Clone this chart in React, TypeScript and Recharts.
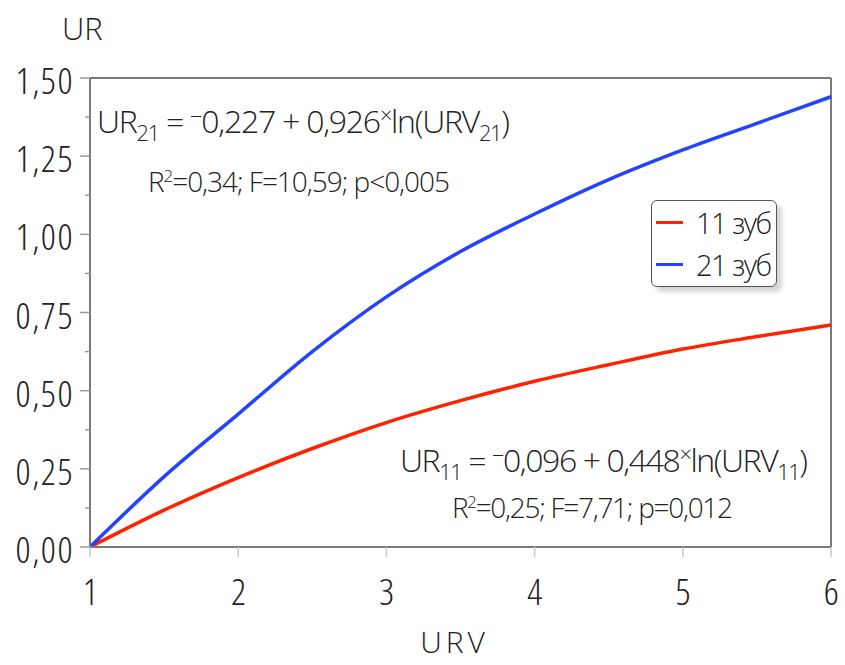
import { LineChart, Line, XAxis, YAxis, Legend, ReferenceLine, Label } from "recharts";

// URV values and fitted UR curves
const URV = [1, 1.5, 2, 2.5, 3, 3.5, 4, 4.5, 5, 5.5, 6];
const UR_11 = [0, 0.118, 0.222, 0.315, 0.398, 0.468, 0.53, 0.583, 0.633, 0.673, 0.71];
const UR_21 = [0, 0.225, 0.425, 0.625, 0.8, 0.945, 1.065, 1.175, 1.27, 1.355, 1.44];

const X_TICKS = [1, 2, 3, 4, 5, 6];
const Y_TICKS = [0, 0.25, 0.5, 0.75, 1, 1.25, 1.5];
const Y_MINOR = [0.125, 0.375, 0.625, 0.875, 1.125, 1.375];

const SERIES = [
  { key: "t11", name: "11 зуб", color: "#ff2200" },
  { key: "t21", name: "21 зуб", color: "#2343ff" },
];

const EQ_21 = { tooth: "21", a: "0,227", b: "0,926", r2: "0,34", f: "10,59", p: "p<0,005" };
const EQ_11 = { tooth: "11", a: "0,096", b: "0,448", r2: "0,25", f: "7,71", p: "p=0,012" };

const data = URV.map((x, i) => ({ urv: x, t11: UR_11[i], t21: UR_21[i] }));

const FONT = "'Open Sans', 'DejaVu Sans', sans-serif";
const TICK_TXT = { fontFamily: FONT, fontStretch: "75%", fontWeight: 350, letterSpacing: 1.5 } as const;
const NOTE_TXT = { fontFamily: FONT, fontStretch: "90%", fontWeight: 350 } as const;
const LABEL_TXT = { fontFamily: FONT, fontStretch: "100%", fontWeight: 350 } as const;
const INK = "#222";
const AXIS = "#7a7a7a";

const fmt = (v: number) => v.toFixed(2).replace(".", ",");

function YTick({ x, y, payload }: any) {
  const major = Y_TICKS.includes(payload.value);
  return (
    <g>
      <line x1={x - (major ? 10 : 5)} x2={x} y1={y} y2={y} stroke="#9a9a9a" strokeWidth={1.5} />
      {major && (
        <text x={x - 16} y={y + 16} textAnchor="end" fontSize={37} style={TICK_TXT} fill={INK}>
          {fmt(payload.value)}
        </text>
      )}
    </g>
  );
}

function XTick({ x, y, payload }: any) {
  return (
    <g>
      <line x1={x} x2={x} y1={y} y2={y + 10} stroke="#c8c8c8" strokeWidth={1.5} />
      <text x={x + 1} y={y + 58} textAnchor="middle" fontSize={37} style={TICK_TXT} fill={INK}>
        {payload.value}
      </text>
    </g>
  );
}

function LegendBox({ payload }: any) {
  const items = payload && payload.length ? payload : SERIES.map((s) => ({ value: s.name, color: s.color }));
  return (
    <div
      style={{
        width: 126,
        height: 87,
        boxSizing: "border-box",
        border: "1.5px solid #555",
        borderRadius: 6,
        background: "#fff",
        boxShadow: "5px 5px 4px #d6d6d6",
        padding: "0 4px",
      }}
    >
      {items.map((it: any) => (
        <div key={it.value} style={{ display: "flex", alignItems: "center", height: 42 }}>
          <span style={{ display: "inline-block", flexShrink: 0, width: 27, height: 3, background: it.color, marginRight: 13 }} />
          <span style={{ ...NOTE_TXT, fontSize: 29, letterSpacing: -1.5, color: INK, lineHeight: 1, whiteSpace: "nowrap" }}>
            {it.value}
          </span>
        </div>
      ))}
    </div>
  );
}

function Equation({ x, y, eq, fs, w }: any) {
  const sub = fs * 0.68;
  return (
    <text x={x} y={y} fontSize={fs} style={NOTE_TXT} fill={INK} textLength={w} lengthAdjust="spacing">
      <tspan>UR</tspan>
      <tspan dy={8} fontSize={sub}>{eq.tooth}</tspan>
      <tspan dy={-8}>{" = "}</tspan>
      <tspan dy={-9} fontSize={sub}>−</tspan>
      <tspan dy={9}>{`${eq.a} + ${eq.b}`}</tspan>
      <tspan dy={-10} fontSize={sub}>×</tspan>
      <tspan dy={10}>ln(URV</tspan>
      <tspan dy={8} fontSize={sub}>{eq.tooth}</tspan>
      <tspan dy={-8}>)</tspan>
    </text>
  );
}

function Stats({ x, y, eq, fs, w }: any) {
  return (
    <text x={x} y={y} fontSize={fs} style={NOTE_TXT} fill={INK} textLength={w} lengthAdjust="spacing">
      <tspan>R</tspan>
      <tspan dy={-10} fontSize={fs * 0.6}>2</tspan>
      <tspan dy={10}>{`=${eq.r2}; F=${eq.f}; ${eq.p}`}</tspan>
    </text>
  );
}

export default function App() {
  return (
    <div style={{ position: "absolute", left: 0, top: 0, width: 845, height: 665, background: "#fff" }}>
      <LineChart width={845} height={665} data={data} margin={{ top: 78, right: 14, left: 0, bottom: 0 }}>
        <XAxis
          dataKey="urv"
          type="number"
          domain={[1, 6]}
          ticks={X_TICKS}
          interval={0}
          height={118}
          tickSize={0}
          tickMargin={0}
          tickLine={false}
          tick={<XTick />}
          axisLine={{ stroke: AXIS, strokeWidth: 2 }}
        >
          <Label value="URV" position="insideBottom" offset={12} dx={-6} fontSize={30} letterSpacing={4} style={LABEL_TXT} fill={INK} />
        </XAxis>
        <YAxis
          type="number"
          domain={[0, 1.5]}
          ticks={[...Y_TICKS, ...Y_MINOR].sort((a, b) => a - b)}
          interval={0}
          width={90}
          tickSize={0}
          tickMargin={0}
          tickLine={false}
          tick={<YTick />}
          axisLine={{ stroke: AXIS, strokeWidth: 2 }}
        />
        <ReferenceLine y={1.5} stroke={AXIS} strokeWidth={2} />
        <ReferenceLine x={6} stroke={AXIS} strokeWidth={2} />
        {SERIES.map((s) => (
          <Line
            key={s.key}
            dataKey={s.key}
            name={s.name}
            type="monotone"
            stroke={s.color}
            strokeWidth={3.5}
            dot={false}
            isAnimationActive={false}
          />
        ))}
        <Legend
          layout="horizontal"
          verticalAlign="middle"
          align="center"
          wrapperStyle={{ left: 651, top: 200, width: 130 }}
          content={<LegendBox />}
        />
      </LineChart>
      <svg
        width={845}
        height={665}
        style={{ position: "absolute", left: 0, top: 0, pointerEvents: "none" }}
      >
        <text x={62} y={40} fontSize={31} style={LABEL_TXT} fill={INK}>UR</text>
        <Equation x={97} y={133} eq={EQ_21} fs={32} w={413} />
        <Stats x={148} y={192} eq={EQ_21} fs={28} w={302} />
        <Equation x={400} y={472} eq={EQ_11} fs={32} w={408} />
        <Stats x={452} y={518} eq={EQ_11} fs={28} w={281} />
      </svg>
    </div>
  );
}
